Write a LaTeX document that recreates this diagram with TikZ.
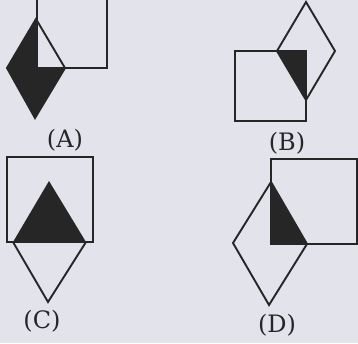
\documentclass[tikz,border=0pt]{standalone}
\usepackage{fontspec}
\newfontfamily\labfont{DejaVu Serif}
\definecolor{bg}{HTML}{E3E3EC}
\definecolor{ink}{HTML}{262626}
\begin{document}
\begin{tikzpicture}[x=1pt,y=-1pt,
  outl/.style={draw=ink,line width=1.9pt,line join=miter},
  lab/.style={font=\labfont\fontsize{24}{26}\selectfont,text=ink}]
\fill[bg] (0,0) rectangle (358,343);
\useasboundingbox (0,0) rectangle (358,343);
\begin{scope}
\clip (0,0) rectangle (358,343);
% (A)
\fill[ink] (36,19) -- (7,68) -- (35,118) -- (65,68) -- (36,68) -- cycle;
\draw[outl] (37,-3) rectangle (107,68);
\draw[outl] (36,19) -- (7,68) -- (35,118) -- (65,68) -- cycle;
\node[lab] (la) at (65,140) {(A)};
% (B)
\fill[ink] (277,51) -- (306,51) -- (306,100) -- cycle;
\draw[outl] (235,51) rectangle (306,121);
\draw[outl] (306,2) -- (277,51) -- (306,100) -- (335,51) -- cycle;
\node[lab] (lb) at (287,143) {(B)};
% (C)
\fill[ink] (49,181) -- (13,242) -- (86,242) -- cycle;
\draw[outl] (7,157) rectangle (93,242);
\draw[outl] (13,242) -- (48,302) -- (86,242);
\node[lab] (lc) at (42,321) {(C)};
% (D)
\fill[ink] (271,182) -- (271,244) -- (307,244) -- cycle;
\draw[outl] (271,159) rectangle (357,244);
\draw[outl] (271,182) -- (233,243) -- (269,305) -- (307,244) -- cycle;
\node[lab] (ld) at (277,325) {(D)};
\end{scope}
\end{tikzpicture}
\end{document}
